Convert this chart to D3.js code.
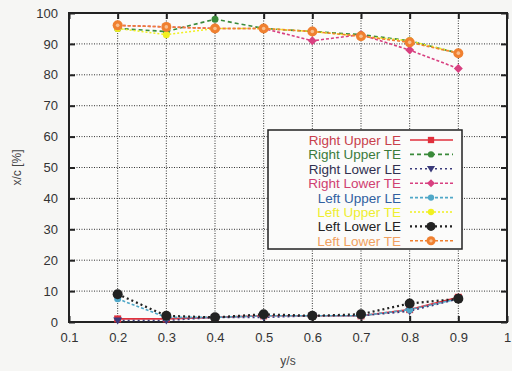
<!DOCTYPE html>
<html>
<head>
<meta charset="utf-8">
<script src="https://cdn.jsdelivr.net/npm/d3@7"></script>
<style>
  body { margin: 0; background: #f6f6f4; }
  svg { display: block; font-family: "Liberation Sans", Arial, sans-serif; }
</style>
</head>
<body>
<svg id="chart" width="512" height="371"></svg>
<script>
// y/s stations
const stations = [0.2, 0.3, 0.4, 0.5, 0.6, 0.7, 0.8, 0.9];

// x/c [%] per series
const rightUpperLE = [1, 1, 1.5, 2, 2, 2, 4, 8];
const rightUpperTE = [95, 94, 98, 95, 94, 93, 91, 87];
const rightLowerLE = [0.5, 0.5, 1.5, 1.5, 2, 2, 3.5, 7.5];
const rightLowerTE = [96, 95.5, 95, 95, 91, 93, 88, 82];
const leftUpperLE = [7.5, 1.5, 1.5, 2, 2, 2, 4, 7.5];
const leftUpperTE = [95, 93, 95, 95, 94, 92.5, 91, 87];
const leftLowerLE = [9, 2, 1.5, 2.5, 2, 2.5, 6, 7.5];
const leftLowerTE = [96, 95.5, 95, 95, 94, 92.5, 90.5, 87];

const xTicks = [0.1, 0.2, 0.3, 0.4, 0.5, 0.6, 0.7, 0.8, 0.9, 1];
const yTicks = [0, 10, 20, 30, 40, 50, 60, 70, 80, 90, 100];

const series = [
  { name: "Right Upper LE", values: rightUpperLE, color: "#e0303c", text: "#c8404c", dash: null, marker: "square" },
  { name: "Right Upper TE", values: rightUpperTE, color: "#3a8a3a", text: "#3a7a3a", dash: "4,3", marker: "circle" },
  { name: "Right Lower LE", values: rightLowerLE, color: "#3a3a7a", text: "#303050", dash: "2,3", marker: "triangle" },
  { name: "Right Lower TE", values: rightLowerTE, color: "#d84080", text: "#d04070", dash: "3,2", marker: "diamond" },
  { name: "Left Upper LE", values: leftUpperLE, color: "#50a8c8", text: "#3060a0", dash: "3,2", marker: "circle" },
  { name: "Left Upper TE", values: leftUpperTE, color: "#f0f020", text: "#eeee30", dash: "2,2", marker: "circle" },
  { name: "Left Lower LE", values: leftLowerLE, color: "#222222", text: "#222222", dash: "2,3", marker: "bigcircle" },
  { name: "Left Lower TE", values: leftLowerTE, color: "#f08030", text: "#f0a060", dash: "3,2", marker: "orange" }
];

const svg = d3.select("#chart");
const pLeft = 69, pRight = 507, pTop = 13, pBottom = 322;

const x = d3.scaleLinear().domain([0.1, 1]).range([pLeft, pRight]);
const y = d3.scaleLinear().domain([0, 100]).range([pBottom, pTop]);

// plot background
svg.append("rect")
  .attr("x", pLeft).attr("y", pTop)
  .attr("width", pRight - pLeft).attr("height", pBottom - pTop)
  .attr("fill", "#fbfbfa");

// grid
const grid = svg.append("g").attr("stroke", "#333").attr("stroke-width", 1).attr("stroke-dasharray", "1,1.5");
grid.selectAll(".gx").data(xTicks.slice(1, -1)).enter().append("line")
  .attr("x1", d => x(d)).attr("x2", d => x(d))
  .attr("y1", pTop).attr("y2", pBottom);
grid.selectAll(".gy").data(yTicks.slice(1, -1)).enter().append("line")
  .attr("x1", pLeft).attr("x2", pRight)
  .attr("y1", d => y(d)).attr("y2", d => y(d));

// axes (ticks pointing inward, mirrored)
const axisStyle = g => {
  g.select(".domain").remove();
  g.selectAll(".tick line").attr("stroke", "#222").attr("stroke-width", 2);
  g.selectAll(".tick text").attr("fill", "#333").style("font-size", "13px");
};
svg.append("g").attr("transform", `translate(0,${pBottom})`)
  .call(d3.axisBottom(x).tickValues(xTicks).tickFormat(d => String(+d.toFixed(1))).tickSizeInner(-6).tickPadding(11))
  .call(axisStyle);
svg.append("g").attr("transform", `translate(0,${pTop})`)
  .call(d3.axisTop(x).tickValues(xTicks).tickFormat("").tickSizeInner(-6))
  .call(axisStyle);
svg.append("g").attr("transform", `translate(${pLeft},0)`)
  .call(d3.axisLeft(y).tickValues(yTicks).tickSizeInner(-6).tickPadding(11))
  .call(axisStyle);
svg.append("g").attr("transform", `translate(${pRight},0)`)
  .call(d3.axisRight(y).tickValues(yTicks).tickFormat("").tickSizeInner(-6))
  .call(axisStyle);

svg.append("rect")
  .attr("x", pLeft).attr("y", pTop)
  .attr("width", pRight - pLeft).attr("height", pBottom - pTop)
  .attr("fill", "none").attr("stroke", "#222").attr("stroke-width", 2);

// axis titles
svg.append("text").attr("x", x(0.55)).attr("y", 365)
  .attr("text-anchor", "middle").attr("fill", "#444").style("font-size", "12px").text("y/s");
svg.append("text").attr("transform", `translate(21,${y(50)}) rotate(-90)`)
  .attr("text-anchor", "middle").attr("fill", "#444").style("font-size", "12px").text("x/c [%]");

function drawMarker(g, s, cx, cy, scale) {
  const k = scale || 1;
  if (s.marker === "square") {
    g.append("rect").attr("x", cx - 3.5 * k).attr("y", cy - 3.5 * k)
      .attr("width", 7 * k).attr("height", 7 * k).attr("fill", s.color);
  } else if (s.marker === "triangle") {
    g.append("path").attr("d", `M${cx - 4.5 * k},${cy - 3 * k}L${cx + 4.5 * k},${cy - 3 * k}L${cx},${cy + 4 * k}Z`)
      .attr("fill", s.color);
  } else if (s.marker === "diamond") {
    g.append("path").attr("d", `M${cx},${cy - 4.5 * k}L${cx + 4.5 * k},${cy}L${cx},${cy + 4.5 * k}L${cx - 4.5 * k},${cy}Z`)
      .attr("fill", s.color);
  } else if (s.marker === "bigcircle") {
    g.append("circle").attr("cx", cx).attr("cy", cy).attr("r", 5 * k).attr("fill", s.color);
  } else if (s.marker === "orange") {
    g.append("circle").attr("cx", cx).attr("cy", cy).attr("r", 5 * k).attr("fill", s.color);
    g.append("circle").attr("cx", cx).attr("cy", cy).attr("r", 1.8 * k).attr("fill", "#f8c090");
  } else {
    g.append("circle").attr("cx", cx).attr("cy", cy).attr("r", 3.5 * k).attr("fill", s.color);
  }
}

// series
const line = d3.line().x((d, i) => x(stations[i])).y(d => y(d));
series.forEach(s => {
  const g = svg.append("g");
  g.append("path").datum(s.values)
    .attr("d", line).attr("fill", "none")
    .attr("stroke", s.color)
    .attr("stroke-width", s.marker === "bigcircle" ? 2.2 : 1.6)
    .attr("stroke-dasharray", s.dash);
  s.values.forEach((v, i) => drawMarker(g, s, x(stations[i]), y(v)));
});

// legend
const lgX = 268, lgY = 130, lgW = 194, lgH = 119, rowH = 14.4;
const lg = svg.append("g");
lg.append("rect").attr("x", lgX).attr("y", lgY).attr("width", lgW).attr("height", lgH)
  .attr("fill", "#fbfbfa").attr("stroke", "#222").attr("stroke-width", 1.5);
series.forEach((s, i) => {
  const cy = lgY + 10 + i * rowH;
  lg.append("text").attr("x", 401).attr("y", cy + 5)
    .attr("text-anchor", "end").attr("fill", s.text).style("font-size", "13.5px").text(s.name);
  lg.append("line").attr("x1", 410).attr("x2", 453).attr("y1", cy).attr("y2", cy)
    .attr("stroke", s.color).attr("stroke-width", s.marker === "bigcircle" ? 2.2 : 1.6)
    .attr("stroke-dasharray", s.dash);
  drawMarker(lg, s, 431, cy, 0.9);
});
</script>
</body>
</html>
